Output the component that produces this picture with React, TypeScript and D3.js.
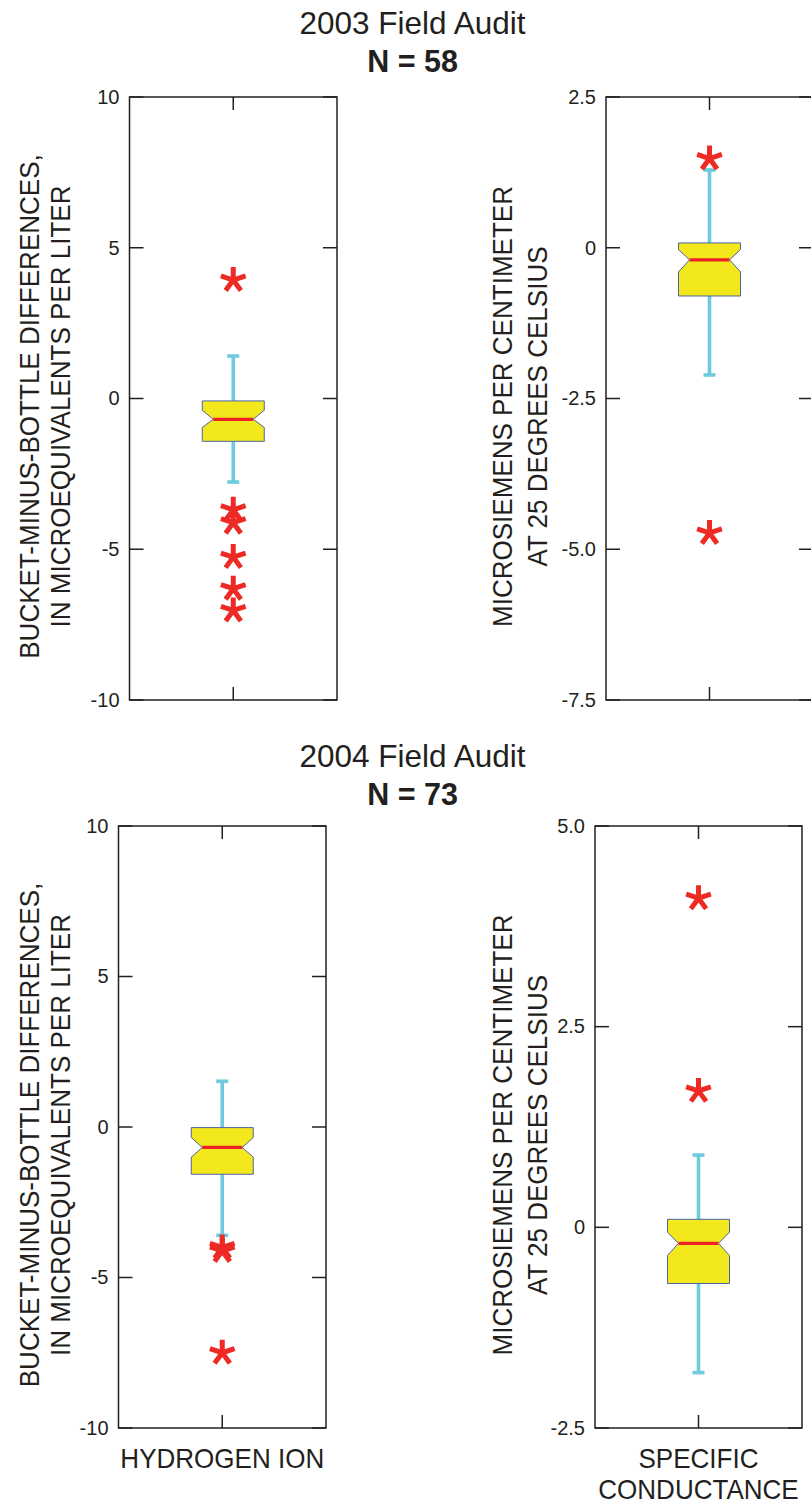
import React from "react";
import * as d3 from "d3";

// Audit headings
const auditTitles = ["2003 Field Audit", "2004 Field Audit"];
const auditCounts = [58, 73];

// Axis titles and category labels
const hydrogenAxisTitle = ["BUCKET-MINUS-BOTTLE DIFFERENCES,", "IN MICROEQUIVALENTS PER LITER"];
const conductanceAxisTitle = ["MICROSIEMENS PER CENTIMETER", "AT 25 DEGREES CELSIUS"];
const hydrogenCategory = ["HYDROGEN ION"];
const conductanceCategory = ["SPECIFIC", "CONDUCTANCE"];

// Y-axis ticks
const hydrogenTicks = [-10, -5, 0, 5, 10];
const conductance2003Ticks = [-7.5, -5, -2.5, 0, 2.5];
const conductance2004Ticks = [-2.5, 0, 2.5, 5];

// Box statistics:
// [lower whisker, lower quartile, lower notch, median, upper notch, upper quartile, upper whisker]
const hydrogen2003Box = [-2.77, -1.42, -0.96, -0.69, -0.39, -0.08, 1.41];
const conductance2003Box = [-2.11, -0.8, -0.4, -0.2, -0.03, 0.08, 1.29];
const hydrogen2004Box = [-3.6, -1.57, -1.0, -0.68, -0.35, -0.02, 1.52];
const conductance2004Box = [-1.81, -0.7, -0.35, -0.2, -0.06, 0.1, 0.9];

// Outside values
const hydrogen2003Outliers = [3.93, -3.69, -4.12, -5.26, -6.31, -7.03];
const conductance2003Outliers = [1.48, -4.73];
const hydrogen2004Outliers = [-4.0, -4.12, -7.5];
const conductance2004Outliers = [4.1, 1.7];

const FONT = "'Liberation Sans', Arial, Helvetica, sans-serif";
const INK = "#231f20";
const BOX_FILL = "#f2e81c";
const BOX_EDGE = "#4c63a6";
const MEDIAN = "#ec2227";
const WHISKER = "#6dcbdc";
const STAR = "#ee2a25";

// plain hyphen for negative numbers
const fmtInt = (v: number) => String(v);
const fmtOne = (v: number) => (v === 0 ? "0" : v.toFixed(1));

// narrow letterforms for the axis and category titles
const NARROW = 0.93;

function starPath(cx: number, cy: number, r: number) {
  const p = d3.path();
  for (let i = 0; i < 5; i++) {
    const a = (-90 + i * 72) * (Math.PI / 180);
    p.moveTo(cx, cy);
    p.lineTo(cx + r * Math.cos(a), cy + r * Math.sin(a));
  }
  return p.toString();
}

type PanelProps = {
  left: number;
  right: number;
  top: number;
  bottom: number;
  ticks: number[];
  fmt: (v: number) => string;
  box: number[];
  outliers: number[];
  axisTitle: string[];
  axisTitleX: number[];
  category: string[];
};

function Panel({ left, right, top, bottom, ticks, fmt, box, outliers, axisTitle, axisTitleX, category }: PanelProps) {
  const y = d3
    .scaleLinear()
    .domain(d3.extent(ticks) as [number, number])
    .range([bottom, top]);
  const cx = (left + right) / 2;
  const [wLo, q1, nLo, med, nHi, q3, wHi] = box;
  const hw = 31;
  const notch = 11;
  const cap = 6;
  const tickLen = 14;

  const bp = d3.path();
  bp.moveTo(cx - hw, y(q3));
  bp.lineTo(cx + hw, y(q3));
  bp.lineTo(cx + hw, y(nHi));
  bp.lineTo(cx + hw - notch, y(med));
  bp.lineTo(cx + hw, y(nLo));
  bp.lineTo(cx + hw, y(q1));
  bp.lineTo(cx - hw, y(q1));
  bp.lineTo(cx - hw, y(nLo));
  bp.lineTo(cx - hw + notch, y(med));
  bp.lineTo(cx - hw, y(nHi));
  bp.closePath();

  const midY = (top + bottom) / 2 + 8;

  return (
    <g>
      {/* whiskers */}
      <line x1={cx} x2={cx} y1={y(q3)} y2={y(wHi)} stroke={WHISKER} strokeWidth={3.6} />
      <line x1={cx} x2={cx} y1={y(q1)} y2={y(wLo)} stroke={WHISKER} strokeWidth={3.6} />
      <line x1={cx - cap} x2={cx + cap} y1={y(wHi)} y2={y(wHi)} stroke={WHISKER} strokeWidth={3.6} />
      <line x1={cx - cap} x2={cx + cap} y1={y(wLo)} y2={y(wLo)} stroke={WHISKER} strokeWidth={3.6} />
      {/* notched box */}
      <path d={bp.toString()} fill={BOX_FILL} stroke={BOX_EDGE} strokeWidth={1} />
      <line x1={cx - hw + notch} x2={cx + hw - notch} y1={y(med)} y2={y(med)} stroke={MEDIAN} strokeWidth={3.2} />
      {/* outside values */}
      {outliers.map((v, i) => (
        <path key={i} d={starPath(cx, y(v), 13)} stroke={STAR} strokeWidth={5} fill="none" />
      ))}
      {/* frame */}
      <rect x={left} y={top} width={right - left} height={bottom - top} fill="none" stroke={INK} strokeWidth={1.5} />
      {ticks.map((t) => (
        <g key={t}>
          <line x1={left} x2={left + tickLen} y1={y(t)} y2={y(t)} stroke={INK} strokeWidth={1.5} />
          <line x1={right - tickLen} x2={right} y1={y(t)} y2={y(t)} stroke={INK} strokeWidth={1.5} />
          <text
            x={left - 10}
            y={y(t) + 1.5}
            textAnchor="end"
            dominantBaseline="middle"
            fontFamily={FONT}
            fontSize={20}
            fill={INK}
          >
            {fmt(t)}
          </text>
        </g>
      ))}
      <line x1={cx} x2={cx} y1={top} y2={top + 13} stroke={INK} strokeWidth={1.5} />
      <line x1={cx} x2={cx} y1={bottom} y2={bottom - 13} stroke={INK} strokeWidth={1.5} />
      {/* axis title */}
      {axisTitle.map((s, i) => (
        <text
          key={s}
          transform={`translate(${axisTitleX[i]},${midY}) rotate(-90) scale(${NARROW},1)`}
          textAnchor="middle"
          fontFamily={FONT}
          fontSize={28}
          fill={INK}
        >
          {s}
        </text>
      ))}
      {/* category label */}
      {category.map((s, i) => (
        <text
          key={s}
          transform={`translate(${cx},${bottom + 40 + i * 31}) scale(${NARROW},1)`}
          textAnchor="middle"
          fontFamily={FONT}
          fontSize={28}
          fill={INK}
        >
          {s}
        </text>
      ))}
    </g>
  );
}

function Heading({ x, y, title, n }: { x: number; y: number; title: string; n: number }) {
  return (
    <g fontFamily={FONT} fill={INK} textAnchor="middle">
      <text x={x} y={y} fontSize={31.5}>
        {title}
      </text>
      <text x={x} y={y + 38} fontSize={30.5} fontWeight="bold">
        {`N = ${n}`}
      </text>
    </g>
  );
}

export default function App() {
  return (
    <svg
      width={811}
      height={1507}
      viewBox="0 0 811 1507"
      style={{ position: "absolute", left: 0, top: 0, background: "#ffffff" }}
    >
      <rect x={0} y={0} width={811} height={1507} fill="#ffffff" />
      <Heading x={412.5} y={34} title={auditTitles[0]} n={auditCounts[0]} />
      <Heading x={412.5} y={767} title={auditTitles[1]} n={auditCounts[1]} />

      <Panel
        left={129.5}
        right={337}
        top={97}
        bottom={700}
        ticks={hydrogenTicks}
        fmt={fmtInt}
        box={hydrogen2003Box}
        outliers={hydrogen2003Outliers}
        axisTitle={hydrogenAxisTitle}
        axisTitleX={[39, 70]}
        category={[]}
      />
      <Panel
        left={606}
        right={813}
        top={97}
        bottom={700}
        ticks={conductance2003Ticks}
        fmt={fmtOne}
        box={conductance2003Box}
        outliers={conductance2003Outliers}
        axisTitle={conductanceAxisTitle}
        axisTitleX={[512, 547]}
        category={[]}
      />
      <Panel
        left={118.5}
        right={326}
        top={826}
        bottom={1428}
        ticks={hydrogenTicks}
        fmt={fmtInt}
        box={hydrogen2004Box}
        outliers={hydrogen2004Outliers}
        axisTitle={hydrogenAxisTitle}
        axisTitleX={[39, 70]}
        category={hydrogenCategory}
      />
      <Panel
        left={595}
        right={802}
        top={826}
        bottom={1428}
        ticks={conductance2004Ticks}
        fmt={fmtOne}
        box={conductance2004Box}
        outliers={conductance2004Outliers}
        axisTitle={conductanceAxisTitle}
        axisTitleX={[512, 547]}
        category={conductanceCategory}
      />
    </svg>
  );
}
